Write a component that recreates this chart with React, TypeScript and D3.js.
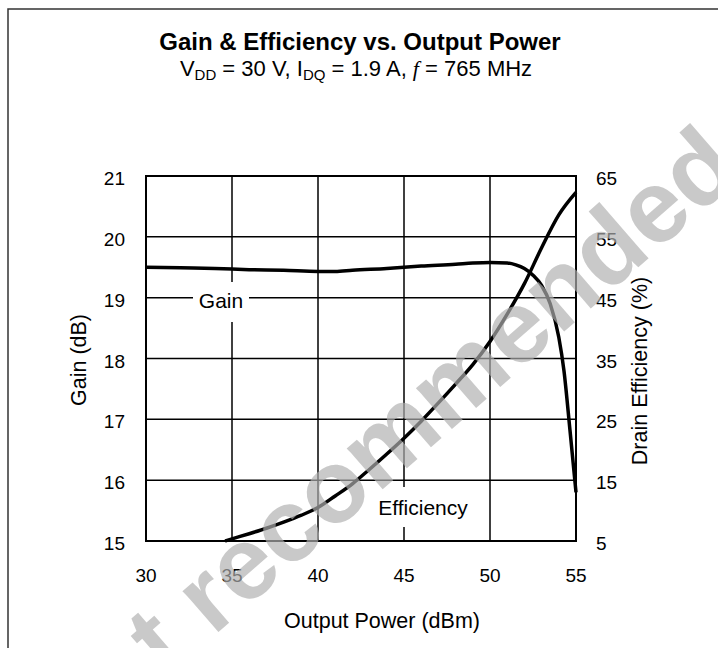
import React from "react";
import * as d3 from "d3";

const xTicks = [30, 35, 40, 45, 50, 55];
const gainTicks = [15, 16, 17, 18, 19, 20, 21];
const effTicks = [5, 15, 25, 35, 45, 55, 65];

const gainPower = [30, 32, 34, 36, 38, 40, 41, 42, 44, 46, 48, 49, 50, 51, 51.5, 52, 52.5, 53, 53.5, 54, 54.3, 54.65, 55];
const gainDb = [19.5, 19.49, 19.48, 19.46, 19.45, 19.43, 19.43, 19.45, 19.48, 19.52, 19.55, 19.57, 19.58, 19.57, 19.54, 19.48, 19.37, 19.2, 18.9, 18.35, 17.8, 16.82, 15.8];

const effPower = [34.6, 35, 36, 37, 38, 39, 40, 41, 42, 43, 44, 45, 46, 47, 48, 49, 50, 51, 52, 53, 54, 55];
const effPct = [5.0, 5.35, 6.2, 7.1, 8.1, 9.2, 10.5, 12.4, 14.4, 16.8, 19.3, 21.9, 24.7, 27.7, 30.8, 34.0, 37.8, 42.3, 47.3, 53.2, 58.6, 62.3];

const W = 718;
const H = 648;
const left = 146, right = 576, top = 176, bottom = 541;
const FONT = "'Liberation Sans', Arial, Helvetica, sans-serif";

export default function App() {
  const x = d3.scaleLinear().domain([30, 55]).range([left, right]);
  const yG = d3.scaleLinear().domain([15, 21]).range([bottom, top]);
  const yE = d3.scaleLinear().domain([5, 65]).range([bottom, top]);

  const gainLine = d3
    .line<number>()
    .x((_, i) => x(gainPower[i]))
    .y((d) => yG(d))
    .curve(d3.curveMonotoneX)(gainDb) as string;

  const effLine = d3
    .line<number>()
    .x((_, i) => x(effPower[i]))
    .y((d) => yE(d))
    .curve(d3.curveMonotoneX)(effPct) as string;

  return (
    <svg
      width={W}
      height={H}
      style={{ position: "absolute", left: 0, top: 0, background: "#fff" }}
      fontFamily={FONT}
    >
      <rect x={0} y={0} width={W} height={H} fill="#fff" />
      {/* outer frame */}
      <path d={`M8,${H + 5} L8,9 L${W + 5},9`} fill="none" stroke="#333" strokeWidth={1.5} />

      {/* title */}
      <text x={360} y={50} textAnchor="middle" fontSize={24} fontWeight="bold" fill="#000">
        Gain &amp; Efficiency vs. Output Power
      </text>
      <text x={356} y={76} textAnchor="middle" fontSize={22} fill="#000">
        <tspan>V</tspan>
        <tspan fontSize={15} dy={4}>DD</tspan>
        <tspan dy={-4}> = 30 V, I</tspan>
        <tspan fontSize={15} dy={4}>DQ</tspan>
        <tspan dy={-4}> = 1.9 A, </tspan>
        <tspan fontFamily="'Liberation Serif', 'Times New Roman', serif" fontStyle="italic">f</tspan>
        <tspan> = 765 MHz</tspan>
      </text>

      {/* grid */}
      {xTicks.map((t) => (
        <line key={"gx" + t} x1={x(t)} x2={x(t)} y1={top} y2={bottom} stroke="#000" strokeWidth={1.5} />
      ))}
      {gainTicks.map((t) => (
        <line key={"gy" + t} x1={left} x2={right} y1={yG(t)} y2={yG(t)} stroke="#000" strokeWidth={1.5} />
      ))}
      <rect x={left} y={top} width={right - left} height={bottom - top} fill="none" stroke="#000" strokeWidth={2} />

      {/* curves */}
      <path d={gainLine} fill="none" stroke="#000" strokeWidth={3.5} />
      <path d={effLine} fill="none" stroke="#000" strokeWidth={3.5} />

      {/* series labels */}
      <rect x={193} y={282} width={56} height={40} fill="#fff" />
      <text x={221} y={307.5} textAnchor="middle" fontSize={21} fill="#000">Gain</text>
      <rect x={370} y={487} width={106} height={40} fill="#fff" />
      <text x={423} y={515} textAnchor="middle" fontSize={21} fill="#000">Efficiency</text>

      {/* tick labels */}
      {gainTicks.map((t) => (
        <text key={"lg" + t} x={125} y={yG(t) + 9} textAnchor="end" fontSize={19} fill="#000">
          {t}
        </text>
      ))}
      {effTicks.map((t) => (
        <text key={"le" + t} x={596} y={yE(t) + 9} textAnchor="start" fontSize={19} fill="#000">
          {t}
        </text>
      ))}
      {xTicks.map((t) => (
        <text key={"lx" + t} x={x(t)} y={581.5} textAnchor="middle" fontSize={19} fill="#000">
          {t}
        </text>
      ))}

      {/* axis titles */}
      <text x={382} y={628} textAnchor="middle" fontSize={21.5} fill="#000">Output Power (dBm)</text>
      <text transform={`translate(86,360) rotate(-90)`} textAnchor="middle" fontSize={21.5} fill="#000">
        Gain (dB)
      </text>
      <text transform={`translate(647,371) rotate(-90)`} textAnchor="middle" fontSize={21.5} fill="#000">
        Drain Efficiency (%)
      </text>

      {/* watermark */}
      <text
        transform={`translate(62,768) rotate(-41)`}
        fontSize={103}
        fontWeight="bold"
        fill="#b0b0b0"
        fillOpacity={0.68}
      >
        Not recommended
      </text>
    </svg>
  );
}
